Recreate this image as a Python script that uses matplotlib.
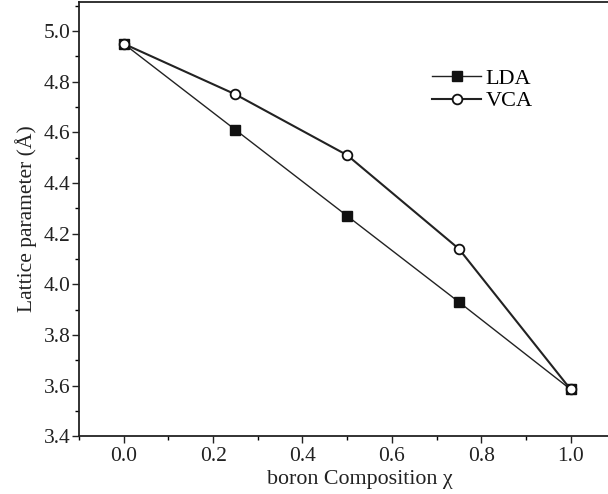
import numpy as np
import matplotlib
matplotlib.use("Agg")
import matplotlib.pyplot as plt
from matplotlib.ticker import MultipleLocator

plt.rcParams['font.family'] = ['Liberation Serif', 'DejaVu Serif']
plt.rcParams['mathtext.fontset'] = 'stix'

# boron composition and lattice parameters (angstrom)
x = [0.0, 0.25, 0.5, 0.75, 1.0]
lda = [4.95, 4.61, 4.27, 3.93, 3.585]
vca = [4.95, 4.75, 4.51, 4.14, 3.585]

fig = plt.figure(figsize=(6.08, 4.94), dpi=100)
ax = fig.add_axes([0.130, 0.117, 0.882, 0.879])

ax.plot(x, lda, color='#222222', lw=1.0, marker='s', ms=6.5,
        mfc='#111111', mec='#111111', label='LDA')
ax.plot(x, vca, color='#222222', lw=1.5, marker='o', ms=7,
        mfc='white', mec='#111111', mew=1.3, label='VCA')

ax.set_xlim(-0.1, 1.1)
ax.set_ylim(3.4, 5.115)
ax.xaxis.set_major_locator(MultipleLocator(0.2))
ax.xaxis.set_minor_locator(MultipleLocator(0.1))
ax.yaxis.set_major_locator(MultipleLocator(0.2))
ax.yaxis.set_minor_locator(MultipleLocator(0.1))
ax.tick_params(which='major', direction='out', length=5, width=1, labelsize=15.5,
               colors='#222222', pad=3)
ax.tick_params(axis='y', which='major', pad=1)
ax.tick_params(which='minor', direction='out', length=3, width=1)
for s in ax.spines.values():
    s.set_linewidth(1.3)
    s.set_color('#222222')

ax.set_xlabel('boron Composition χ', fontsize=15.8, color='#222222', labelpad=3)
ax.xaxis.label.set_x(0.524)
ax.set_ylabel('Lattice parameter (Å)', fontsize=15.5, color='#222222', labelpad=5)

ax.legend(loc='upper left', bbox_to_anchor=(0.659, 0.848), frameon=False,
          fontsize=16, handlelength=2.2, handletextpad=0.2, labelspacing=0.1,
          borderpad=0, borderaxespad=0)

fig.savefig('out.png', dpi=100)
